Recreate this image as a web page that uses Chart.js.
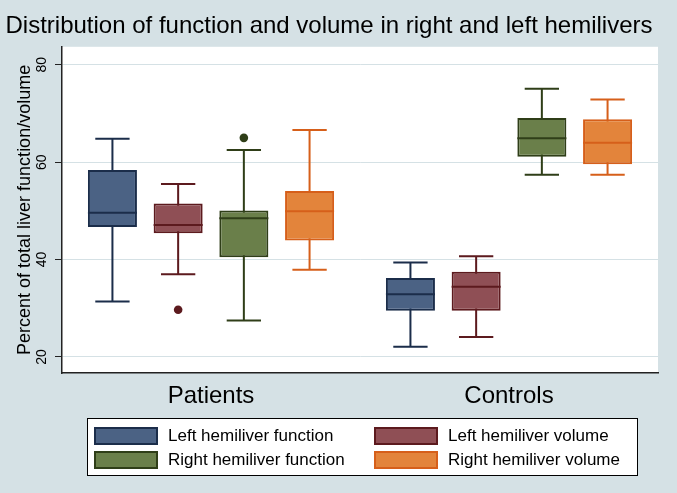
<!DOCTYPE html>
<html>
<head>
<meta charset="utf-8">
<style>
  html, body { margin: 0; padding: 0; background: #d5e1e5; }
</style>
</head>
<body>
  <canvas id="chart1" width="677" height="493"></canvas>
<script src="https://cdn.jsdelivr.net/npm/chart.js@4/dist/chart.umd.min.js"></script>
<script>
  // data
  const groups = ['Patients', 'Controls']
  const series = [
    'Left hemiliver function',
    'Left hemiliver volume',
    'Right hemiliver function',
    'Right hemiliver volume'
  ]
  // one row per series, one value per group
  const whiskerLow = [[31.4, 22.1], [37.0, 24.1], [27.5, 57.4], [37.9, 57.4]]
  const quartile1 = [[46.7, 29.5], [45.4, 29.5], [40.5, 61.1], [43.9, 59.6]]
  const medians = [[49.6, 32.9], [47.1, 34.4], [48.5, 64.9], [49.9, 64.0]]
  const quartile3 = [[58.4, 36.2], [51.5, 37.5], [50.1, 69.1], [54.1, 68.8]]
  const whiskerHigh = [[64.8, 39.4], [55.5, 40.7], [62.5, 75.1], [66.6, 72.9]]
  const outliers = [[[], []], [[29.7], []], [[65.0], []], [[], []]]
  const yTicks = [20, 40, 60, 80]

  const fills = ['#4b6284', '#8f4f55', '#6a7f4a', '#e3843b']
  const lines = ['#1b2d4a', '#5c1a1e', '#2f3e18', '#d65f1a']
  const font = '"Liberation Sans", Arial, sans-serif'

  const boxPlot = {
    id: 'boxPlot',
    beforeDraw(chart) {
      const { ctx, chartArea: a } = chart
      ctx.save()
      ctx.fillStyle = '#d5e1e5'
      ctx.fillRect(0, 0, chart.width, chart.height)
      ctx.fillStyle = '#ffffff'
      ctx.fillRect(a.left, a.top, a.right - a.left, a.bottom - a.top)
      ctx.restore()
    },
    beforeDatasetsDraw(chart) {
      // whiskers and caps, behind the boxes
      const { ctx } = chart
      const y = chart.scales.y
      ctx.save()
      ctx.lineWidth = 2
      chart.data.datasets.forEach((ds, i) => {
        chart.getDatasetMeta(i).data.forEach((bar, j) => {
          const cap = bar.width * 0.35
          const lo = y.getPixelForValue(whiskerLow[i][j])
          const hi = y.getPixelForValue(whiskerHigh[i][j])
          ctx.strokeStyle = lines[i]
          ctx.beginPath()
          ctx.moveTo(bar.x, lo)
          ctx.lineTo(bar.x, hi)
          ctx.moveTo(bar.x - cap, lo)
          ctx.lineTo(bar.x + cap, lo)
          ctx.moveTo(bar.x - cap, hi)
          ctx.lineTo(bar.x + cap, hi)
          ctx.stroke()
        })
      })
      ctx.restore()
    },
    afterDatasetsDraw(chart) {
      const { ctx } = chart
      const y = chart.scales.y
      ctx.save()
      chart.data.datasets.forEach((ds, i) => {
        chart.getDatasetMeta(i).data.forEach((bar, j) => {
          const m = y.getPixelForValue(medians[i][j])
          ctx.strokeStyle = lines[i]
          ctx.lineWidth = 2
          ctx.beginPath()
          ctx.moveTo(bar.x - bar.width / 2, m)
          ctx.lineTo(bar.x + bar.width / 2, m)
          ctx.stroke()
          ctx.fillStyle = lines[i]
          outliers[i][j].forEach(v => {
            ctx.beginPath()
            ctx.arc(bar.x, y.getPixelForValue(v), 4.3, 0, Math.PI * 2)
            ctx.fill()
          })
        })
      })
      ctx.restore()
    },
    afterDraw(chart) {
      // legend box below the axis labels
      const { ctx } = chart
      ctx.save()
      ctx.fillStyle = '#ffffff'
      ctx.fillRect(87, 418, 551, 58)
      ctx.strokeStyle = '#000000'
      ctx.lineWidth = 1
      ctx.strokeRect(87.5, 418.5, 550, 57)
      ctx.font = '17px ' + font
      ctx.textBaseline = 'middle'
      const cols = [94, 374]
      const rows = [427, 451]
      series.forEach((name, i) => {
        const x = cols[i % 2]
        const top = rows[Math.floor(i / 2)]
        ctx.fillStyle = fills[i]
        ctx.fillRect(x, top, 64, 18)
        ctx.strokeStyle = lines[i]
        ctx.lineWidth = 2
        ctx.strokeRect(x + 1, top + 1, 62, 16)
        ctx.fillStyle = '#000000'
        ctx.fillText(name, x + 74, top + 9.5)
      })
      ctx.restore()
    }
  }

  new Chart(document.getElementById('chart1'), {
    type: 'bar',
    data: {
      labels: groups,
      datasets: series.map((name, i) => ({
        label: name,
        data: groups.map((g, j) => [quartile1[i][j], quartile3[i][j]]),
        backgroundColor: fills[i],
        borderColor: lines[i],
        borderWidth: 2,
        borderSkipped: false,
        categoryPercentage: 0.882,
        barPercentage: 0.746
      }))
    },
    plugins: [boxPlot],
    options: {
      responsive: false,
      animation: false,
      devicePixelRatio: 1,
      layout: {
        padding: { left: 0, right: 19, top: 0, bottom: 80 }
      },
      plugins: {
        legend: { display: false },
        tooltip: { enabled: false },
        title: {
          display: true,
          text: 'Distribution of function and volume in right and left hemilivers',
          color: '#000000',
          font: { family: font, size: 24, weight: 'normal' },
          padding: { top: 12, bottom: 6 }
        }
      },
      scales: {
        x: {
          grid: { display: false, drawTicks: false },
          border: { color: '#222222', width: 1.5 },
          ticks: {
            color: '#000000',
            padding: 9,
            font: { family: font, size: 24 }
          },
          afterFit: scale => { scale.height = 40 }
        },
        y: {
          min: 16.7,
          max: 83.7,
          afterBuildTicks: scale => {
            scale.ticks = yTicks.map(v => ({ value: v }))
          },
          afterFit: scale => { scale.width = 62 },
          grid: {
            color: '#d5e1e5',
            tickColor: '#222222',
            tickLength: 7
          },
          border: { color: '#222222', width: 1.5 },
          ticks: {
            color: '#000000',
            minRotation: 90,
            maxRotation: 90,
            crossAlign: 'center',
            padding: 5,
            font: { family: font, size: 14 }
          },
          title: {
            display: true,
            text: 'Percent of total liver function/volume',
            color: '#000000',
            font: { family: font, size: 18 },
            padding: { top: 14, bottom: 0 }
          }
        }
      }
    }
  })
</script>
</body>
</html>
